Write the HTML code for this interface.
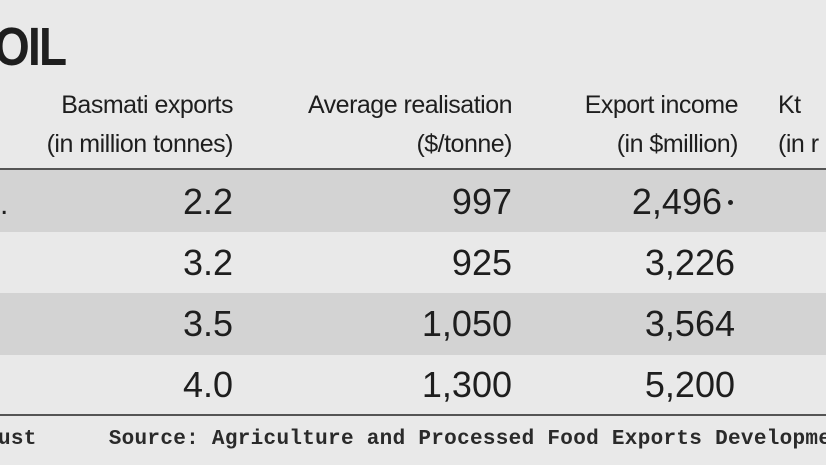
<!DOCTYPE html>
<html><head><style>
body{margin:0;width:826px;height:465px;overflow:hidden;background:#e9e9e9;font-family:"Liberation Sans",sans-serif;color:#1e1e1e;position:relative}
.a{position:absolute;white-space:nowrap}
.r{position:absolute;left:0;width:826px}
.h{font-size:25px;text-align:right;line-height:39px;letter-spacing:-0.5px}
.d{font-size:36px;text-align:right;line-height:61px}
</style></head><body>
<div class="a" style="left:-6px;top:16px;font-size:54px;font-weight:bold;letter-spacing:-2px;transform:scaleX(0.85);transform-origin:left">OIL</div>
<div class="r" style="top:168px;height:2px;background:#555"></div>
<div class="r" style="top:170px;height:62px;background:#d3d3d3"></div>
<div class="r" style="top:232px;height:61px;background:#e9e9e9"></div>
<div class="r" style="top:293px;height:62px;background:#d3d3d3"></div>
<div class="r" style="top:355px;height:59px;background:#e9e9e9"></div>
<div class="r" style="top:414px;height:2px;background:#555"></div>

<div class="a h" style="right:593px;top:86px">Basmati exports<br>(in million tonnes)</div>
<div class="a h" style="right:314px;top:86px">Average realisation<br>($/tonne)</div>
<div class="a h" style="right:88px;top:86px">Export income<br>(in $million)</div>
<div class="a h" style="left:778px;top:86px;text-align:left">Kt<br>(in r</div>

<div class="a d" style="right:593px;top:171px">2.2<br>3.2<br>3.5<br>4.0</div>
<div class="a d" style="right:314px;top:171px">997<br>925<br>1,050<br>1,300</div>
<div class="a d" style="right:104px;top:171px">2,496</div>
<div class="a d" style="right:91px;top:232px">3,226<br>3,564<br>5,200</div>
<div class="a" style="left:728px;top:200px;width:5px;height:5px;border-radius:50%;background:#222"></div>
<div class="a" style="left:0;top:188px;font-size:30px">.</div>

<div class="a" style="left:-2px;top:428px;font-family:'Liberation Mono',monospace;font-size:21px;font-weight:bold;color:#2a2a2a;letter-spacing:0.3px">ust<span style="display:inline-block;width:72px"></span>Source: Agriculture and Processed Food Exports Development</div>
</body></html>
